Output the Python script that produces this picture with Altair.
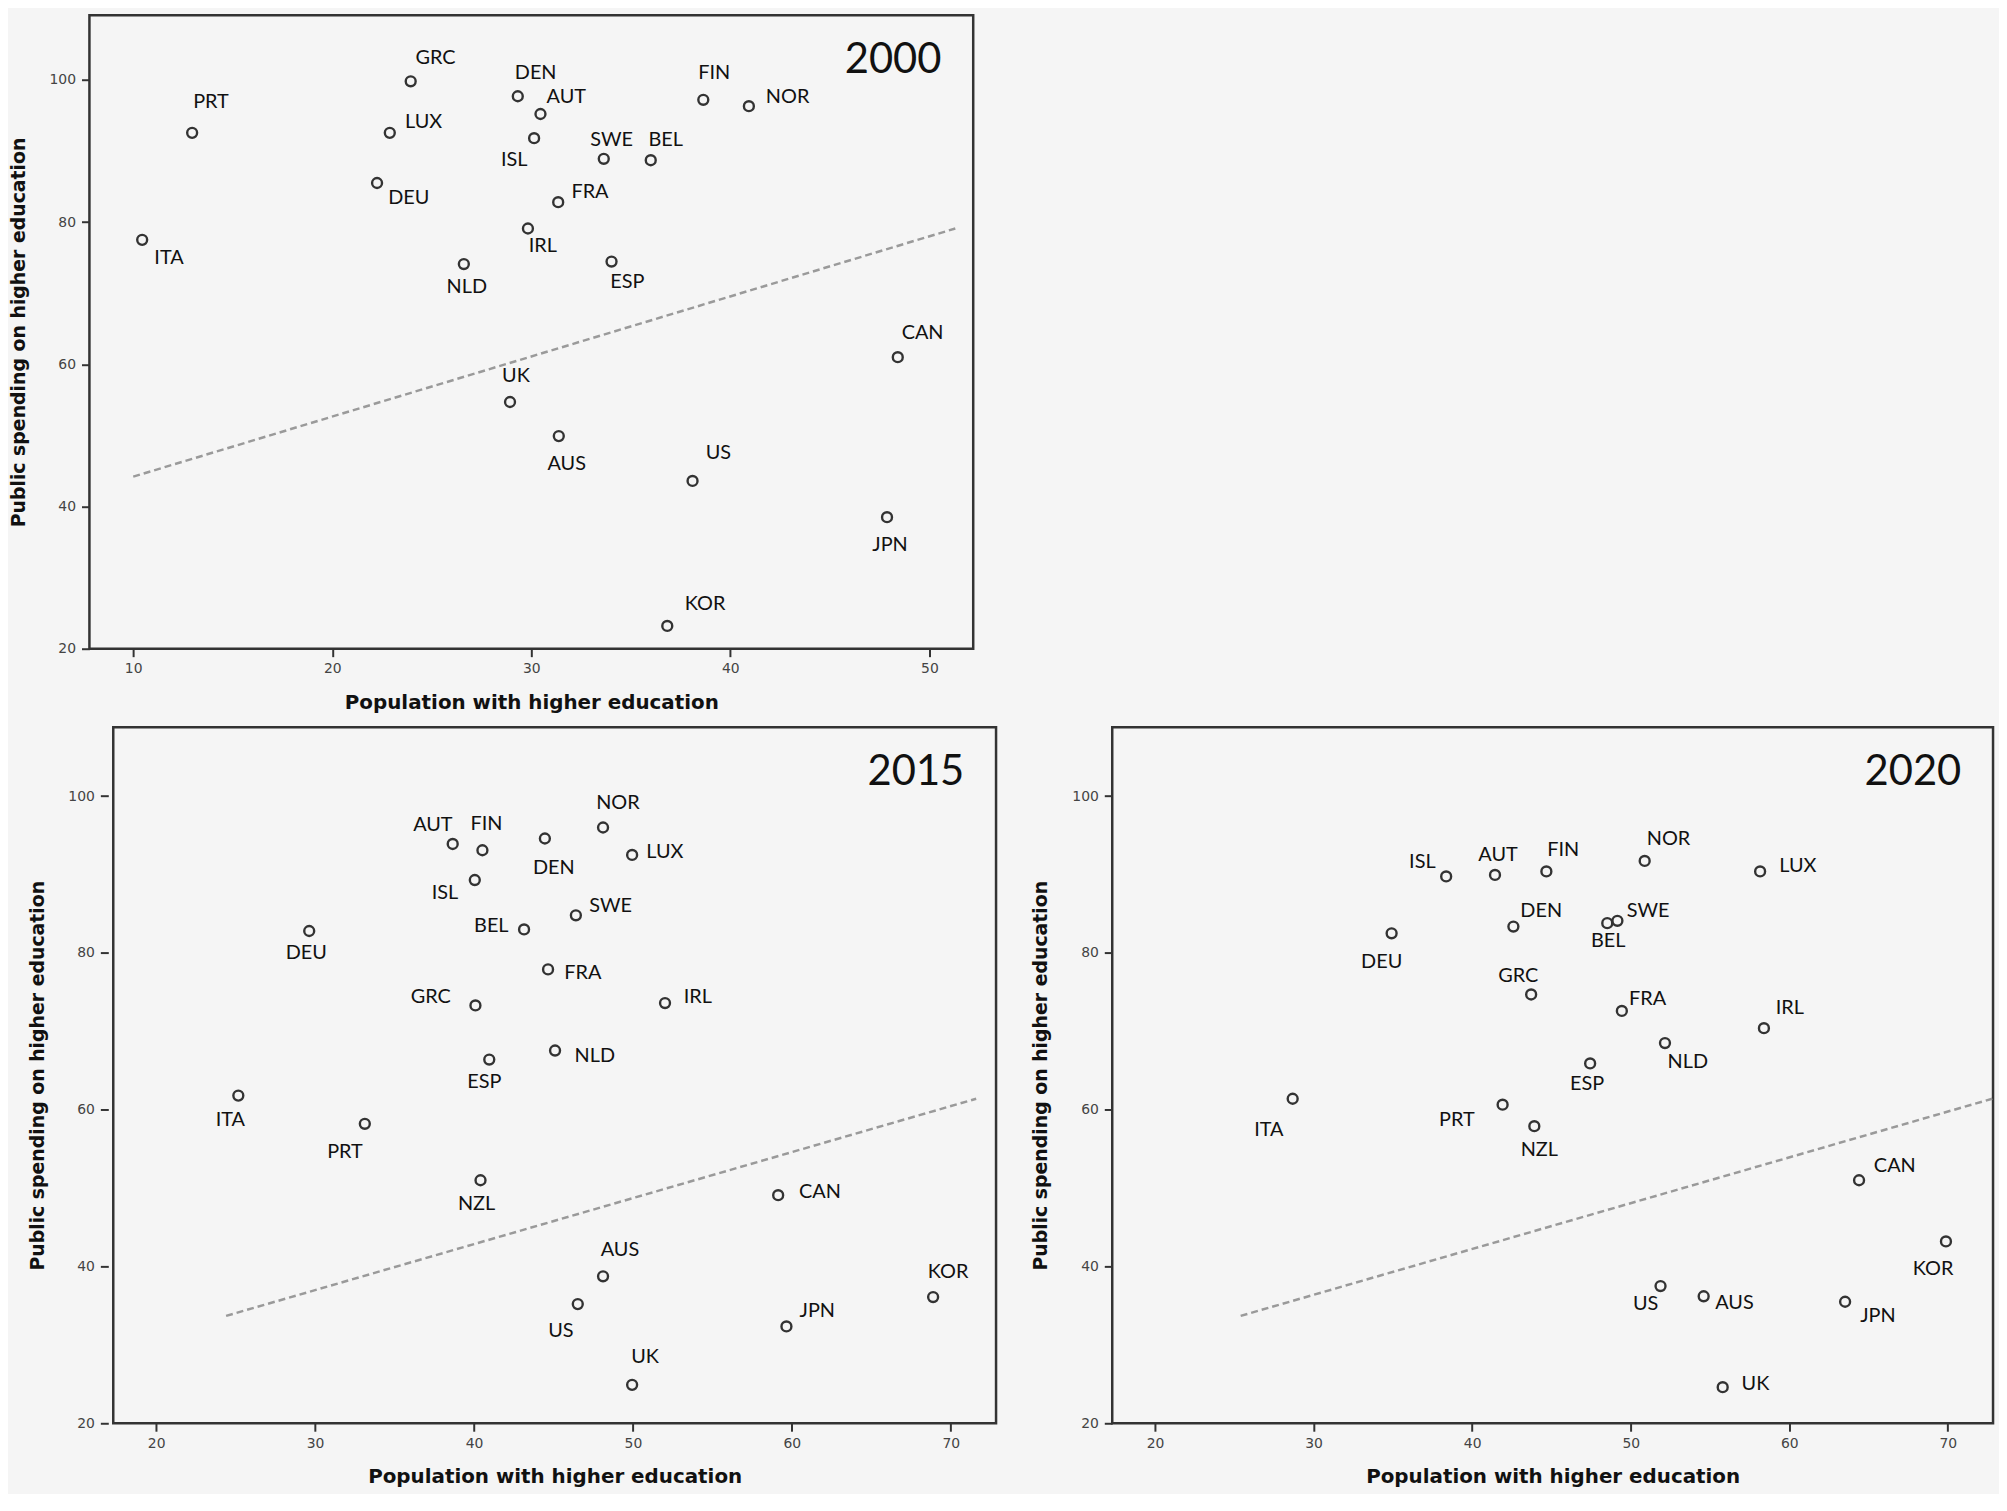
import altair as alt
import pandas as pd

# ---- 2000 ----
countries_2000 = ["PRT", "GRC", "LUX", "DEU", "ITA", "DEN", "AUT", "ISL", "FIN", "NOR", "SWE",
                  "BEL", "FRA", "IRL", "NLD", "ESP", "CAN", "UK", "AUS", "US", "JPN", "KOR"]
pop_2000 = [12.96, 23.94, 22.89, 22.25, 10.45, 29.32, 30.46, 30.14, 38.64, 40.93, 33.64,
            36.0, 31.35, 29.83, 26.61, 34.03, 48.41, 28.93, 31.38, 38.1, 47.87, 36.83]
spend_2000 = [92.55, 99.8, 92.55, 85.5, 77.5, 97.7, 95.2, 91.8, 97.2, 96.3, 88.9,
              88.7, 82.8, 79.1, 74.1, 74.45, 61.0, 54.7, 49.9, 43.6, 38.5, 23.2]
fit_x_2000 = [10.0, 51.3]
fit_y_2000 = [44.2, 79.1]

# ---- 2015 ----
countries_2015 = ["AUT", "FIN", "DEN", "NOR", "LUX", "ISL", "SWE", "BEL", "DEU", "FRA", "GRC", "IRL",
                  "NLD", "ESP", "ITA", "PRT", "NZL", "CAN", "AUS", "KOR", "US", "JPN", "UK"]
pop_2015 = [38.66, 40.53, 44.46, 48.12, 49.95, 40.05, 46.41, 43.15, 29.63, 44.66, 40.09, 52.02,
            45.1, 40.96, 25.17, 33.13, 40.41, 59.14, 48.12, 68.89, 46.53, 59.66, 49.95]
spend_2015 = [93.9, 93.1, 94.6, 96.0, 92.5, 89.3, 84.8, 83.0, 82.8, 77.9, 73.3, 73.6,
              67.55, 66.4, 61.8, 58.2, 51.0, 49.1, 38.75, 36.1, 35.2, 32.35, 24.9]
fit_x_2015 = [24.4, 71.6]
fit_y_2015 = [33.7, 61.4]

# ---- 2020 ----
countries_2020 = ["ISL", "AUT", "FIN", "NOR", "LUX", "DEN", "BEL", "SWE", "DEU", "GRC", "FRA", "IRL",
                  "NLD", "ESP", "ITA", "PRT", "NZL", "CAN", "KOR", "US", "AUS", "JPN", "UK"]
pop_2020 = [38.36, 41.44, 44.68, 50.88, 58.16, 42.6, 48.52, 49.16, 34.92, 43.72, 49.44, 58.4,
            52.16, 47.44, 28.68, 41.92, 43.92, 64.4, 69.88, 51.88, 54.6, 63.52, 55.8]
spend_2020 = [89.76, 89.95, 90.4, 91.74, 90.4, 83.36, 83.8, 84.1, 82.5, 74.7, 72.6, 70.4,
              68.5, 65.9, 61.4, 60.64, 57.9, 51.0, 43.2, 37.5, 36.2, 35.5, 24.6]
fit_x_2020 = [25.4, 72.8]
fit_y_2020 = [33.7, 61.4]

# label placement (pixels from the point to the label centre)
label_dx_2000 = [19, 25, 34, 32, 27, 18, 26, -20, 11, 39, 8, 15, 32, 15, 3, 16, 25, 6, 8, 26, 3, 38]
label_dy_2000 = [-31, -23, -11, 15, 18, -23, -17, 22, -27, -9, -19, -20, -10, 18, 23, 21, -24, -26, 28, -28, 28, -22]
label_dx_2015 = [-20, 4, 9, 15, 33, -30, 35, -33, -3, 35, -45, 33, 40, -5, -8, -20, -4, 42, 17, 15, -17, 31, 13]
label_dy_2015 = [-19, -26, 30, -25, -3, 13, -9, -3, 22, 4, -8, -6, 6, 23, 25, 28, 24, -3, -26, -25, 27, -16, -28]
label_dx_2020 = [-24, 3, 17, 24, 38, 28, 1, 31, -10, -13, 26, 26, 23, -3, -24, -46, 5, 36, -13, -15, 31, 33, 33]
label_dy_2020 = [-14, -20, -22, -22, -5, -16, 18, -10, 29, -19, -12, -20, 19, 21, 32, 15, 24, -14, 28, 18, 7, 14, -3]

y_ticks = [20, 40, 60, 80, 100]

INK = "#333333"
Y_TITLE = "Public spending on higher education"
X_TITLE = "Population with higher education"


def y_axis(offset=0):
    kw = dict(values=y_ticks, title=Y_TITLE, grid=False, domain=False, tickSize=8, tickWidth=2,
              tickColor="#333", labelFont="DejaVu Sans", labelFontSize=14, labelColor="#444",
              labelPadding=6, titleFont="DejaVu Sans", titleFontSize=19, titleFontWeight="bold",
              titleColor="#111", titlePadding=21)
    if offset:
        kw["offset"] = offset
    return alt.Axis(**kw)


def x_axis(ticks):
    return alt.Axis(values=ticks, title=X_TITLE, grid=False, domain=False, tickSize=8, tickWidth=2,
                    tickColor="#333", labelFont="DejaVu Sans", labelFontSize=14, labelColor="#444",
                    labelPadding=5, titleFont="DejaVu Sans", titleFontSize=20,
                    titleFontWeight="bold", titleColor="#111", titlePadding=17)


def panel(year, countries, pop, spend, dx, dy, fit_x, fit_y,
          x_domain, y_domain, x_ticks, width, height, show_y=True):
    df = pd.DataFrame({"country": countries, "pop": pop, "spend": spend, "dx": dx, "dy": dy})
    fit = pd.DataFrame({"pop": fit_x, "spend": fit_y})
    ppx = width / (x_domain[1] - x_domain[0])
    ppy = height / (y_domain[1] - y_domain[0])
    xs = alt.Scale(domain=x_domain, nice=False, zero=False)
    ys = alt.Scale(domain=y_domain, nice=False, zero=False)
    xa = x_axis(x_ticks)
    ya = y_axis() if show_y else None

    def xe(f):
        return alt.X(f, type="quantitative", scale=xs, axis=xa)

    def ye(f):
        if ya is None:
            return alt.Y(f, type="quantitative", scale=ys, axis=None)
        return alt.Y(f, type="quantitative", scale=ys, axis=ya)

    line = alt.Chart(fit).mark_line(color="#9a9a9a", strokeWidth=2.5, strokeDash=[7, 4]).encode(
        x=xe("pop"), y=ye("spend")
    )
    points = alt.Chart(df).mark_point(shape="circle", filled=False, size=100, strokeWidth=2.4,
                                      color=INK, opacity=1).encode(x=xe("pop"), y=ye("spend"))
    labels = (
        alt.Chart(df)
        .transform_calculate(lx=f"datum.pop + datum.dx / {ppx}", ly=f"datum.spend - datum.dy / {ppy}")
        .mark_text(font="Lato", fontSize=20, color="#111", align="center", baseline="middle")
        .encode(x=xe("lx"), y=ye("ly"), text="country:N")
    )
    year_text = alt.Chart(pd.DataFrame({"year": [year]})).mark_text(
        font="Lato", fontSize=42, color="#111", align="right", baseline="alphabetic"
    ).encode(x=alt.value(width - 32), y=alt.value(58), text="year:N")
    return alt.layer(line, points, labels, year_text).properties(width=width, height=height)


# y axis of the 2015 panel, drawn in a narrow strip so that panel sits further right
def axis_strip(y_domain, height, strip):
    ys = alt.Scale(domain=y_domain, nice=False, zero=False)
    return (
        alt.Chart(pd.DataFrame({"spend": [y_domain[0]]}))
        .mark_point(opacity=0)
        .encode(y=alt.Y("spend:Q", scale=ys, axis=y_axis(offset=-strip)))
        .properties(width=strip, height=height, view=alt.ViewBackground(stroke="transparent"))
    )


top = panel("2000", countries_2000, pop_2000, spend_2000, label_dx_2000, label_dy_2000,
            fit_x_2000, fit_y_2000, [7.8, 52.2], [20, 109.1], [10, 20, 30, 40, 50], 890, 638)
bl = panel("2015", countries_2015, pop_2015, spend_2015, label_dx_2015, label_dy_2015,
           fit_x_2015, fit_y_2015, [17.3, 72.85], [20, 108.8], [20, 30, 40, 50, 60, 70], 889, 701,
           show_y=False)
br = panel("2020", countries_2020, pop_2020, spend_2020, label_dx_2020, label_dy_2020,
           fit_x_2020, fit_y_2020, [17.3, 72.85], [20, 108.8], [20, 30, 40, 50, 60, 70], 887, 701)

bottom = alt.hconcat(alt.hconcat(axis_strip([20, 108.8], 701, 19), bl, spacing=0), br, spacing=33)

chart = (
    alt.vconcat(top, bottom, spacing=11)
    .properties(padding={"left": 0, "top": 0, "right": 0, "bottom": 0})
    .configure(background="#f5f5f5")
    .configure_view(stroke="#333333", strokeWidth=2.5)
)

chart.save("out.html", embed_options={"renderer": "svg", "actions": False})
